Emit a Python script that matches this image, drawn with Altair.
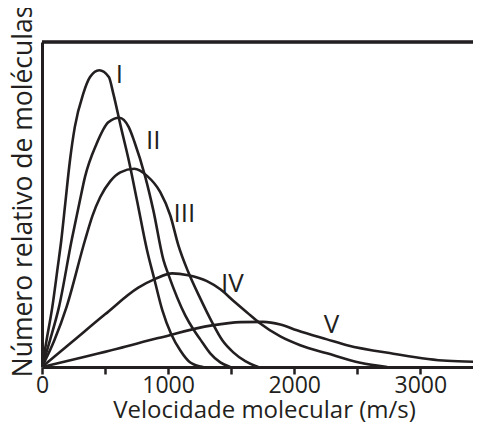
import altair as alt
import pandas as pd

# Velocidade (m/s) e número relativo (0-100 = altura do quadro)
v_I = [0, 36, 82, 125, 153, 185, 220, 260, 328, 381, 454, 530, 565, 626, 688, 753, 833, 891, 954, 1025, 1097, 1176, 1279]
h_I = [0, 8.2, 18.5, 30.8, 39.0, 50.5, 63.0, 73.8, 84.2, 89.2, 91.3, 89.2, 84.2, 73.8, 63.6, 51.3, 35.9, 27.0, 17.5, 10.1, 5.1, 1.4, 0]

v_II = [0, 63, 135, 235, 301, 341, 433, 526, 613, 688, 732, 819, 883, 964, 1002, 1136, 1200, 1255, 1334, 1414, 1493]
h_II = [0, 8.2, 18.5, 39.0, 51.3, 58.5, 68.7, 75.3, 76.7, 73.8, 69.4, 58.5, 48.2, 32.8, 28.5, 15.9, 11.6, 8.5, 4.2, 1.4, 0]

v_III = [0, 98, 195, 341, 400, 462, 542, 621, 732, 833, 938, 1017, 1081, 1160, 1255, 1348, 1430, 1517, 1612, 1715]
h_III = [0, 8.2, 18.5, 39.0, 46.5, 52.3, 57.2, 59.9, 61.0, 58.8, 53.8, 46.7, 37.5, 29.2, 21.1, 13.8, 8.2, 4.5, 1.8, 0]

v_IV = [0, 235, 500, 764, 898, 1033, 1160, 1308, 1414, 1517, 1626, 1731, 1890, 2048, 2260, 2524, 2738]
h_IV = [0, 7.6, 16.2, 24.4, 27.1, 28.8, 28.2, 26.4, 23.9, 20.4, 16.8, 13.4, 9.4, 6.7, 4.2, 1.3, 0]

v_V = [0, 605, 922, 1348, 1574, 1755, 1890, 2022, 2260, 2419, 2786, 3212, 3476]
h_V = [0, 5.7, 8.9, 12.8, 13.8, 13.9, 13.1, 11.3, 8.5, 6.7, 4.1, 1.9, 1.6]

label_names = ["I", "II", "III", "IV", "V"]
label_v = [613, 883, 1129, 1510, 2296]
label_h = [90, 69.4, 47, 25.4, 13]

x_ticks = [0, 500, 1000, 1500, 2000, 2500, 3000]

series = {"I": (v_I, h_I), "II": (v_II, h_II), "III": (v_III, h_III),
          "IV": (v_IV, h_IV), "V": (v_V, h_V)}
rows = []
for name, (vs, hs) in series.items():
    for i, (a, b) in enumerate(zip(vs, hs)):
        rows.append({"curva": name, "v": a, "h": b, "ordem": i})
df = pd.DataFrame(rows)
lab = pd.DataFrame({"t": label_names, "v": label_v, "h": label_h})

INK = "#231f20"
FONT = "Open Sans"

xscale = alt.Scale(domain=[0, 3418], nice=False, zero=False)
yscale = alt.Scale(domain=[0, 100], nice=False)

xaxis = alt.Axis(values=x_ticks, labelExpr="datum.value % 1000 == 0 ? format(datum.value, 'd') : ''",
                 grid=False, domainColor=INK, domainWidth=3, tickColor=INK, tickWidth=2.5,
                 tickSize=7, labelFont=FONT, labelFontSize=23, labelColor=INK,
                 labelPadding=18, labelBaseline="alphabetic", labelFlush=False, labelOverlap=False,
                 title="Velocidade molecular (m/s)", titleFont=FONT, titleFontSize=24,
                 titleFontWeight="normal", titleColor=INK, titleBaseline="alphabetic",
                 titleX=222, titleY=50, titleAlign="center")
yaxis = alt.Axis(labels=False, ticks=False, grid=False, domainColor=INK, domainWidth=3,
                 title="Número relativo de moléculas", titleFont=FONT, titleFontSize=26.5,
                 titleFontWeight="normal", titleColor=INK, titleAngle=270,
                 titleBaseline="alphabetic", titleX=-11, titleY=149, titleAlign="center")

lines = alt.Chart(df).mark_line(strokeWidth=2.6, interpolate="monotone", clip=True).encode(
    x=alt.X("v:Q", scale=xscale, axis=xaxis),
    y=alt.Y("h:Q", scale=yscale, axis=yaxis),
    detail="curva:N",
    order="ordem:Q",
    color=alt.value(INK),
)

texts = alt.Chart(lab).mark_text(font=FONT, fontSize=26, color=INK, align="center",
                                 baseline="middle").encode(
    x=alt.X("v:Q", scale=xscale),
    y=alt.Y("h:Q", scale=yscale),
    text="t:N",
)

top = alt.Chart(lab).mark_rule(color=INK, strokeWidth=2.5).encode(
    x=alt.value(0), x2=alt.value(431), y=alt.value(0)
)

chart = alt.layer(lines, texts, top).properties(
    width=431, height=325,
    padding={"left": 34, "top": 34, "right": 0, "bottom": 56},
    autosize=alt.AutoSizeParams(type="none"),
).configure_view(strokeWidth=0)

chart.save("out.html", embed_options={"renderer": "svg", "actions": False})
